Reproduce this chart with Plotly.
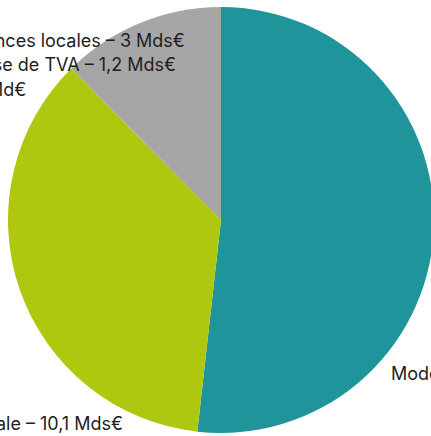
import plotly.graph_objects as go

W, H = 436, 436

# Data (Mds€)
labels = ["Modernisation", "Protection sociale", "Finances locales"]
values = [14.6, 10.1, 3.5]
colors = ["#1f959b", "#afc80f", "#a6a6a6"]

# Label texts (cropped by the frame in the reference)
label_texts = [
    "Modernisation – 14,6 Mds€",
    "Protection sociale – 10,1 Mds€",
    "Finances locales – 3 Mds€",
    "Baisse de TVA – 1,2 Mds€",
    "Divers – 0,8 Md€",
]

fig = go.Figure()
fig.add_trace(go.Pie(
    labels=labels,
    values=values,
    marker=dict(colors=colors, line=dict(width=0)),
    sort=False,
    direction="clockwise",
    rotation=0,
    textinfo="none",
    hoverinfo="label+value",
    showlegend=False,
    domain=dict(x=[8 / W, 434 / W], y=[1 - 434 / H, 1 - 6 / H]),
))

font = dict(family="Inter, sans-serif", size=18, color="#1e1e1e")
# (text index, px x, px y, anchor)
placements = [
    (0, 389, 373, "left"),
    (1, 125, 423, "right"),
    (2, 187, 40, "right"),
    (3, 178, 65, "right"),
    (4, 28, 89, "right"),
]
for i, px, py, anchor in placements:
    fig.add_annotation(
        text=label_texts[i], x=px / W, y=1 - py / H,
        xref="paper", yref="paper", xanchor=anchor, yanchor="middle",
        showarrow=False, font=font,
    )

fig.update_layout(
    width=W, height=H,
    margin=dict(l=0, r=0, t=0, b=0),
    paper_bgcolor="white",
    plot_bgcolor="white",
)
fig.write_html(
    "out.html",
    config={"displayModeBar": False},
    post_script="document.body.style.margin='0';document.body.style.overflow='hidden';",
)
